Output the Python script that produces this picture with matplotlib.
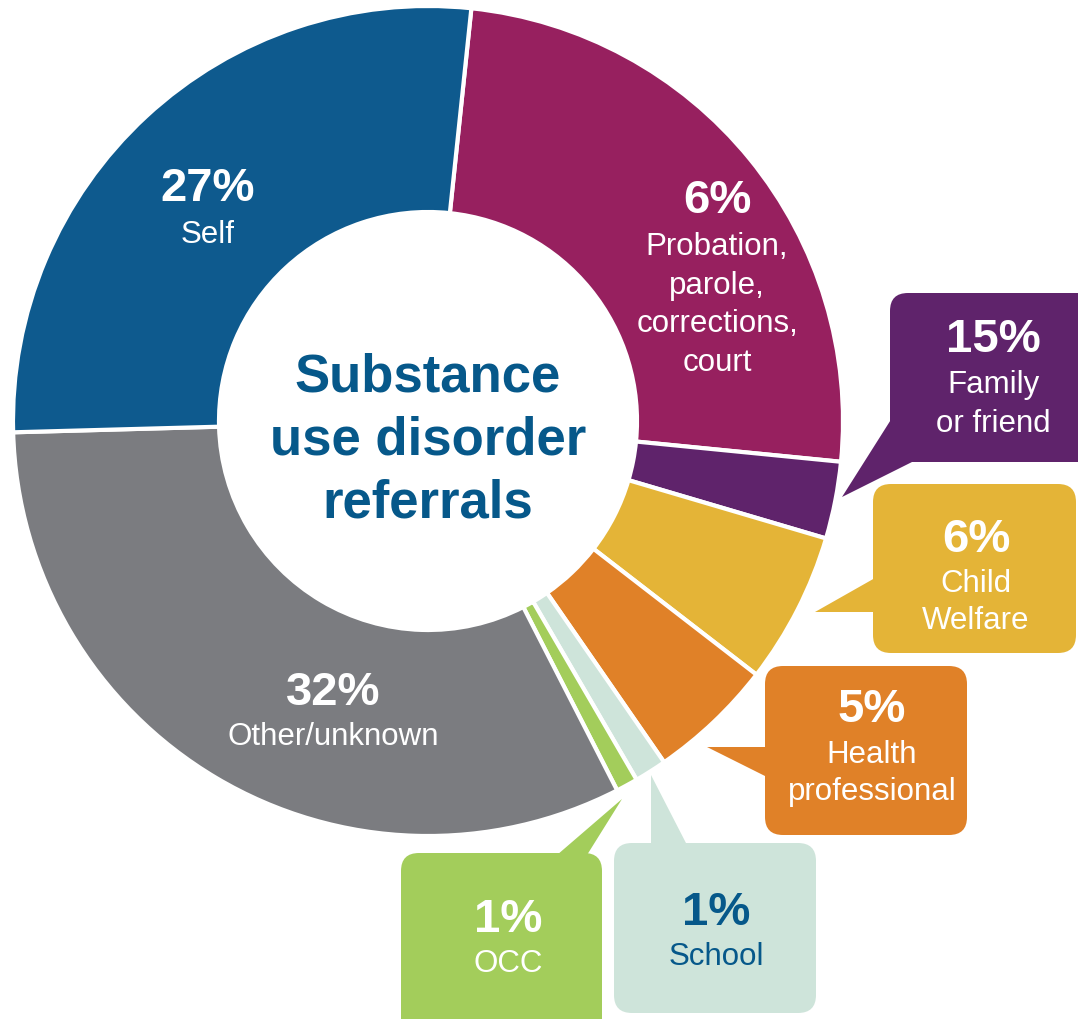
import matplotlib
matplotlib.use('Agg')
import matplotlib.pyplot as plt
from matplotlib.patches import FancyBboxPatch, Polygon

plt.rcParams['font.family'] = ['Liberation Sans', 'DejaVu Sans']

W, H = 1078, 1019

# slices clockwise from the top
categories = ['Probation, parole, corrections, court', 'Family or friend', 'Child Welfare',
              'Health professional', 'School', 'OCC', 'Other/unknown', 'Self']
# wedge sizes as drawn in the picture (%)
shares = [24.9, 3.0, 5.9, 4.9, 1.25, 0.85, 32.1, 27.1]
# percentages as printed on the labels
pct_text = ['6%', '15%', '6%', '5%', '1%', '1%', '32%', '27%']
label_lines = [['Probation,', 'parole,', 'corrections,', 'court'],
               ['Family', 'or friend'],
               ['Child', 'Welfare'],
               ['Health', 'professional'],
               ['School'],
               ['OCC'],
               ['Other/unknown'],
               ['Self']]
colors = ['#97205f', '#5f236b', '#e4b437', '#e08128', '#cee4da', '#a3cd5b', '#7b7c80', '#0e5a8e']
title_lines = ['Substance', 'use disorder', 'referrals']

dark_blue = '#06588a'

def Y(py):
    # picture rows counted from the top
    return H - py

fig = plt.figure(figsize=(W / 100, H / 100), dpi=100)
ax = fig.add_axes([0, 0, 1, 1])

cx, cy, R = 428, Y(421), 415
ax.pie(shares, colors=colors, startangle=84, counterclock=False,
       center=(cx, cy), radius=R,
       wedgeprops=dict(width=206, edgecolor='white', linewidth=3))

# callout boxes: (left, top, right, bottom) and pointer triangle, picture pixels
boxes = {
    1: ((890, 293, 1110, 462), [(892, 418), (842, 497), (912, 462), (912, 418)]),
    2: ((873, 484, 1076, 653), [(875, 578), (815, 612), (875, 612)]),
    3: ((765, 666, 967, 835), [(767, 747), (707, 747), (767, 777)]),
    4: ((614, 843, 816, 1013), [(651, 845), (651, 775), (687, 845)]),
    5: ((401, 853, 602, 1040), [(557, 855), (622, 799), (587, 855)]),
}
for i, (b, tri) in boxes.items():
    l, t, r, btm = b
    ax.add_patch(FancyBboxPatch((l, Y(btm)), r - l, btm - t,
                                boxstyle='round,pad=0,rounding_size=18',
                                fc=colors[i], ec='none', zorder=3))
    ax.add_patch(Polygon([(x, Y(y)) for x, y in tri], closed=True,
                         fc=colors[i], ec='none', zorder=3))

# label anchors: centre x, pct baseline, first line baseline, line step
anchors = [(717, 213, 255, 38.5),
           (993, 352, 393, 39),
           (976, 552, 592, 37),
           (872, 722, 763, 37),
           (716, 925, 965, 37),
           (508, 932, 972, 37),
           (333, 705, 745, 37),
           (208, 201, 243, 37)]
for i, (x, pb, lb, step) in enumerate(anchors):
    tc = dark_blue if categories[i] == 'School' else 'white'
    ax.text(x, Y(pb), pct_text[i], ha='center', va='baseline', fontsize=34,
            fontweight='bold', color=tc, zorder=4)
    for k, line in enumerate(label_lines[i]):
        ax.text(x, Y(lb + k * step), line, ha='center', va='baseline',
                fontsize=22.5, color=tc, zorder=4)

for k, line in enumerate(title_lines):
    ax.text(428, Y(391 + k * 63), line, ha='center', va='baseline', fontsize=38,
            fontweight='bold', color=dark_blue, zorder=4)

ax.set_xlim(0, W)
ax.set_ylim(0, H)
ax.set_aspect('equal')
ax.axis('off')

fig.savefig('out.png', dpi=100, facecolor='white')
